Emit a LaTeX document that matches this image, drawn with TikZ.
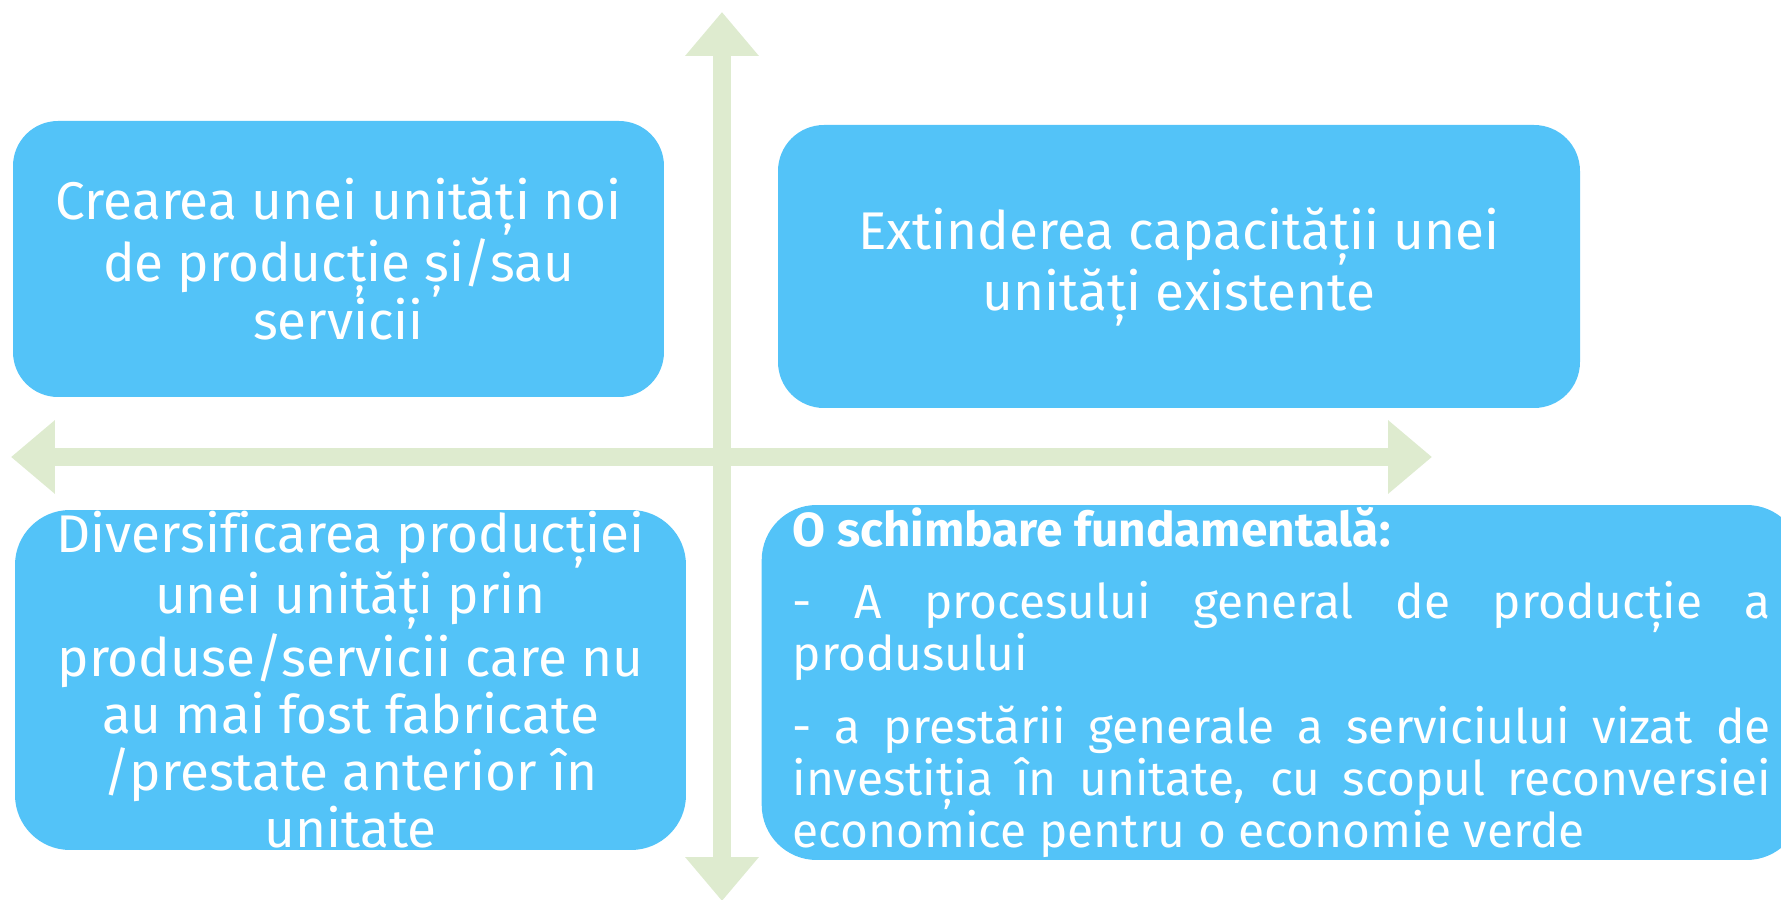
\documentclass[tikz,border=0pt]{standalone}
\usepackage{fontspec}
\setmainfont{Fira Sans}[Ligatures=NoCommon]
\usetikzlibrary{arrows.meta}
\definecolor{boxblue}{RGB}{83,195,248}
\definecolor{axisgreen}{RGB}{222,235,207}
\begin{document}
\begin{tikzpicture}[x=0.1mm,y=-0.1mm,
		quad/.style={rectangle,fill=boxblue,text=white,inner sep=0pt,align=center,font=\fontsize{15.1}{16.3}\selectfont},
		axis/.style={line width=1.8mm,draw=axisgreen,{Triangle[length=4.4mm,width=7.1mm]}-{Triangle[length=4.4mm,width=7.1mm]}}]
	\useasboundingbox (0,0) rectangle (1781,900);
	\coordinate (west) at (11,457);
	\coordinate (east) at (1432,457);
	\coordinate (north) at (722,12);
	\coordinate (south) at (722,901);
	\draw[axis] (west) -- (east);
	\draw[axis] (south) -- (north);
	\node[quad,rounded corners=4.5mm,minimum width=65.1mm,minimum height=27.6mm] (nou) at (338.5,259) {Crearea unei unități noi\\de producție și/sau\\servicii};
	\node[quad,rounded corners=4.6mm,minimum width=80.2mm,minimum height=28.3mm] (extindere) at (1179,266.5) {Extinderea capacității unei\\unități existente};
	\node[quad,rounded corners=5.5mm,minimum width=67.1mm,minimum height=34mm] (diversificare) at (350.5,680) {Diversificarea producției\\unei unități prin\\produse/servicii care nu\\au mai fost fabricate\\/prestate anterior în\\unitate};
	\node[quad,rounded corners=5.5mm,anchor=west,align=justify,text width=97.8mm,inner xsep=3.1mm,minimum height=35.5mm,font=\fontsize{13.6}{14.8}\selectfont] (schimbare) at (761,682.5) {\parindent=0pt\parskip=5.7pt\hyphenpenalty=10000
		{\bfseries O schimbare fundamentală:}\par
		-  A procesului general de producție a\linebreak produsului\par
		- a prestării generale a serviciului vizat de\linebreak investiția în unitate, cu scopul reconversiei\linebreak economice pentru o economie verde};
\end{tikzpicture}
\end{document}
